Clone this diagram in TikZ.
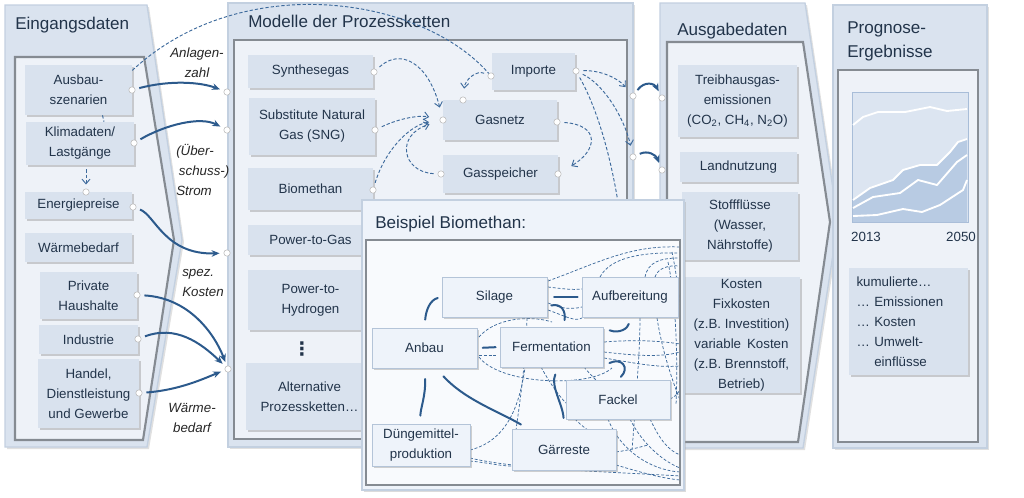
\documentclass[tikz,border=0pt]{standalone}
\usepackage{fontspec}
\setmainfont{Liberation Sans}
\newfontfamily\dejavu{DejaVu Sans}
\usetikzlibrary{arrows.meta,shadows}
\definecolor{panelfill}{HTML}{DAE3EF}
\definecolor{panelborder}{HTML}{C3D0E0}
\definecolor{innerfill}{HTML}{EEF2F8}
\definecolor{innerborder}{HTML}{858B92}
\definecolor{boxfill}{HTML}{D9E2EE}
\definecolor{bpanel}{HTML}{EEF3FA}
\definecolor{binner}{HTML}{F8FAFD}
\definecolor{bboxfill}{HTML}{EEF3FA}
\definecolor{bboxborder}{HTML}{B4C4D8}
\definecolor{txt}{HTML}{22344A}
\definecolor{arrowc}{HTML}{2C5A8C}
\definecolor{dashc}{HTML}{3D6A9C}
\definecolor{chartlight}{HTML}{DCE5F1}
\definecolor{chartdark}{HTML}{B8CBE3}
\definecolor{chartborder}{HTML}{A8BDD8}
\begin{document}
\begin{tikzpicture}[x=0.75pt,y=-0.75pt,
  outerp/.style={fill=panelfill, draw=panelborder, line width=1pt, drop shadow={shadow xshift=1.5pt, shadow yshift=-1.5pt, opacity=0.35, fill=gray!70}},
  innerp/.style={fill=innerfill, draw=innerborder, line width=1.6pt},
  ttl/.style={text=txt, font=\fontsize{12.8}{18}\selectfont, inner sep=0pt, align=left},
  box/.style={fill=boxfill, text=txt, align=center, font=\fontsize{10}{15}\selectfont, inner sep=1pt, drop shadow={shadow xshift=1.2pt, shadow yshift=-1.2pt, opacity=0.45, fill=gray!80}},
  sz/.style 2 args={minimum width=#1*0.75pt, minimum height=#2*0.75pt},
  bbox/.style={box, fill=bboxfill, draw=bboxborder, line width=0.6pt},
  dot/.style={circle, fill=white, draw=gray!55, line width=0.4pt, inner sep=0pt, minimum size=4.8pt},
  lab/.style={text=black!85, font=\fontsize{10}{15}\selectfont\itshape, inner sep=0pt},
  solidarr/.style={draw=arrowc, line width=1.5pt, -{Stealth[length=6pt,width=5pt]}, shorten >=3pt, shorten <=3pt},
  dasharr/.style={draw=dashc, line width=0.7pt, dash pattern=on 2.5pt off 1.5pt, -{Straight Barb[length=3.5pt,width=6pt]}, shorten <=3pt},
  dashline/.style={draw=dashc, line width=0.7pt, dash pattern=on 2.5pt off 1.5pt},
  bsolid/.style={draw=arrowc, line width=1.5pt, line cap=round},
  bdash/.style={draw=dashc, line width=0.55pt, dash pattern=on 2.2pt off 1.4pt}
]
\useasboundingbox (0,0) rectangle (1024,497);

% ---------- panels ----------
\path[outerp] (5,5) -- (147,5) -- (182,240) -- (147,447) -- (5,447) -- cycle;
\path[innerp] (15,57) -- (144,57) -- (174,240) -- (143,440) -- (15,440) -- cycle;
\path[outerp] (228,3) rectangle (633,447);
\path[innerp] (234,40) rectangle (627,439);
\path[outerp] (660,3) -- (805,3) -- (838,222) -- (803,448) -- (660,448) -- cycle;
\path[innerp] (667,42) -- (803,42) -- (830,222) -- (798,442) -- (667,442) -- cycle;
\path[outerp] (833,5) rectangle (987,448);
\path[innerp] (838,70) rectangle (978,442);

% ---------- titles ----------
\node[ttl, anchor=base west] (tEin) at (15,29) {Eingangsdaten};
\node[ttl, anchor=base west] (tMod) at (248,27) {Modelle der Prozessketten};
\node[ttl, anchor=base west] (tAus) at (677,35) {Ausgabedaten};
\node[ttl, anchor=north west] (tPro) at (847,21) {Prognose-\\Ergebnisse};

% ---------- Eingangsdaten boxes ----------
\node[box, sz={107}{50}] (ausbau) at (78.5,90) {Ausbau-\\szenarien};
\node[box, sz={108}{43}] (klima) at (80,143.5) {Klimadaten/\\Lastgänge};
\node[box, sz={107}{27}] (energie) at (78.5,205.5) {Energiepreise};
\node[box, sz={107}{29}] (waerme) at (78.5,247.5) {Wärmebedarf};
\node[box, sz={97}{47}] (privat) at (88.5,295.5) {Private\\Haushalte};
\node[box, sz={99}{29}] (industrie) at (88.5,339.5) {Industrie};
\node[box, sz={101}{69}] (handel) at (88.5,393.5) {Handel,\\Dienstleistung\\und Gewerbe};

% ---------- Modelle boxes ----------
\node[box, sz={125}{33}] (synth) at (310.5,71.5) {Synthesegas};
\node[box, sz={126}{57}] (sng) at (312,126.5) {Substitute Natural\\Gas (SNG)};
\node[box, sz={125}{42}] (biometh) at (310.5,189) {Biomethan};
\node[box, sz={125}{30}] (p2g) at (310.5,240) {Power-to-Gas};
\node[box, sz={125}{60}] (p2h) at (310.5,300) {Power-to-\\Hydrogen};
\node[text=txt, inner sep=0pt, font=\dejavu\fontsize{14}{14}\selectfont\bfseries] (vd) at (302,349) {⋮};
\node[box, sz={127}{67}] (altern) at (309.5,396.5) {Alternative\\Prozessketten…};
\node[box, sz={83}{37}] (importe) at (533.5,71.5) {Importe};
\node[box, sz={114}{40}] (gasnetz) at (500,120) {Gasnetz};
\node[box, sz={115}{38}] (gasspeicher) at (500.5,174) {Gasspeicher};

% ---------- Ausgabedaten boxes ----------
\node[box, sz={119}{72}] (thg) at (737.5,101) {Treibhausgas-\\emissionen\\(CO\textsubscript{2}, CH\textsubscript{4}, N\textsubscript{2}O)};
\node[box, sz={117}{30}] (land) at (738.5,167) {Landnutzung};
\node[box, sz={116}{68}] (stoff) at (740,226) {Stoffflüsse\\(Wasser,\\Nährstoffe)};
\node[box, sz={117}{116}] (kosten) at (741.5,335) {Kosten\\Fixkosten\\(z.B. Investition)\\variable\, Kosten\\(z.B. Brennstoff,\\Betrieb)};

% ---------- Prognose content ----------
\path[fill=chartlight, draw=chartborder, line width=0.6pt] (852,92) rectangle (968,222);
\path[fill=chartdark] (853,222) -- (853,200) -- (870,188) -- (893,180) -- (903,170) -- (920,165) -- (937,165) -- (950,152) -- (958,142) -- (967,139) -- (967,222) -- cycle;
\begin{scope}[draw=white, line width=1.4pt, line join=round]
\draw (853,125) -- (863,117) -- (878,112) -- (905,112) -- (930,107) -- (947,111) -- (967,109);
\draw (853,200) -- (870,188) -- (893,180) -- (903,170) -- (920,165) -- (937,165) -- (950,152) -- (958,142) -- (967,139);
\draw (853,208) -- (873,197) -- (900,193) -- (918,180) -- (937,185) -- (957,162) -- (967,155);
\draw (853,216) -- (877,215) -- (903,209) -- (922,212) -- (940,205) -- (963,190) -- (967,180);
\end{scope}
\node[text=txt, font=\fontsize{10}{12}\selectfont, inner sep=0pt] (y1) at (866,237) {2013};
\node[text=txt, font=\fontsize{10}{12}\selectfont, inner sep=0pt] (y2) at (961,237) {2050};
\node[box, sz={119}{107}, text width=104*0.75pt, align=left] (kumul) at (908.5,321.5) {kumulierte…\\… Emissionen\\… Kosten\\… Umwelt-\\\phantom{… }einflüsse};

% ---------- dots (as nodes) ----------
\node[dot] (dAusE) at (132,90) {};
\node[dot] (dKlimE) at (134,143) {};
\node[dot] (dEnerE) at (133,207) {};
\node[dot] (dEnerN) at (86,192) {};
\node[dot] (dPrivE) at (137,295) {};
\node[dot] (dIndE) at (138,339) {};
\node[dot] (dHandE) at (139,393) {};
\node[dot] (dM1) at (227,92) {};
\node[dot] (dM2) at (227,130) {};
\node[dot] (dM3) at (227,253) {};
\node[dot] (dM4) at (228,369) {};
\node[dot] (dSyn) at (374,72) {};
\node[dot] (dSng) at (375,130) {};
\node[dot] (dBio) at (373,190) {};
\node[dot] (dGnW) at (443,120) {};
\node[dot] (dGnE) at (557,122) {};
\node[dot] (dGnN) at (463,100) {};
\node[dot] (dImW) at (491,76) {};
\node[dot] (dImE) at (576,71) {};
\node[dot] (dGsW) at (441,174) {};
\node[dot] (dGsE) at (558,174) {};
\node[dot] (dO1) at (633,96) {};
\node[dot] (dO2) at (633,157) {};
\node[dot] (dA1) at (662,98) {};
\node[dot] (dA2) at (662,170) {};
\coordinate (impEnd) at (620,215);

% ---------- connectors ----------
\draw[dashline] (ausbau.20) .. controls (240,-30) and (420,-5) .. (dImW);
\draw[dashline] ([xshift=18pt]ausbau.south) -- ([xshift=18pt]klima.north);
\draw[dasharr, shorten >=3pt] (klima.south -| dEnerN) -- (dEnerN);
\draw[solidarr] (dAusE) .. controls (170,80) and (200,82) .. (dM1);
\draw[solidarr] (dKlimE) .. controls (165,125) and (200,116) .. (dM2);
\draw[solidarr] (dEnerE) .. controls (155,215) and (165,255) .. (dM3);
\draw[solidarr] (dPrivE) .. controls (190,298) and (215,335) .. (dM4);
\draw[solidarr] (dIndE) .. controls (175,325) and (200,342) .. (dM4);
\draw[solidarr] (dHandE) .. controls (180,390) and (205,378) .. (dM4);

\draw[dasharr, shorten >=7pt] (dSyn) .. controls (400,48) and (428,62) .. (dGnW);
\draw[dasharr, shorten >=8pt] (dSng) .. controls (400,118) and (420,115) .. (dGnW);
\draw[dasharr, shorten >=8pt] (dBio) .. controls (385,150) and (410,125) .. (dGnW);
\draw[dasharr, shorten >=8pt] (dGsW) .. controls (402,172) and (395,135) .. (dGnW);
\draw[dasharr, shorten >=9pt] (dGnE) .. controls (600,125) and (598,150) .. (dGsE);
\draw[dasharr, shorten >=6pt] (dImW) .. controls (476,70) and (465,80) .. (dGnN);
\draw[dasharr, shorten >=6pt] (dImE) .. controls (600,70) and (618,78) .. (dO1);
\draw[dasharr, shorten >=6pt] (dImE) .. controls (605,85) and (625,120) .. (dO2);
\draw[dashline, shorten <=3pt] (dImE) .. controls (598,110) and (612,160) .. (impEnd);
\draw[solidarr] (dO1) .. controls (645,80) and (655,84) .. (dA1);
\draw[solidarr] (dO2) .. controls (648,150) and (656,155) .. (dA2);

% ---------- labels ----------
\node[lab, align=center] (lAnl) at (197,62.5) {Anlagen-\\zahl};
\node[lab, align=left, anchor=west] (lStr) at (176,170) {(Über-\\\hspace*{2pt}schuss-)\\Strom};
\node[lab, align=left, anchor=west] (lKos) at (182,282.5) {spez.\\Kosten};
\node[lab, align=center] (lWae) at (192,417.5) {Wärme-\\bedarf};

% ---------- Beispiel Biomethan panel ----------
\path[fill=bpanel, draw=panelborder, line width=1pt, drop shadow={shadow xshift=1.5pt, shadow yshift=-1.5pt, opacity=0.4, fill=gray!70}] (362,200) rectangle (684,490);
\path[fill=binner, draw=innerborder, line width=1.6pt] (366,240) rectangle (680,485);
\node[ttl, anchor=base west] (tBei) at (375,228) {Beispiel Biomethan:};

\begin{scope}
\clip (367,241) rectangle (679,484);
% dashed tangle
\draw[bdash] (548,281) .. controls (600,262) and (630,245) .. (680,247);
\draw[bdash] (548,287) .. controls (565,289) and (572,290) .. (582,289);
\draw[bdash] (600,277) .. controls (610,258) and (640,252) .. (680,253);
\draw[bdash] (645,277) .. controls (648,262) and (660,258) .. (680,258);
\draw[bdash] (655,277) .. controls (658,268) and (668,265) .. (680,266);
\draw[bdash] (548,303) .. controls (560,308) and (570,310) .. (582,307);
\draw[bdash] (548,310) .. controls (565,316) and (575,322) .. (582,318);
\draw[bdash] (604,342) .. controls (630,340) and (655,340) .. (680,344);
\draw[bdash] (604,352) .. controls (630,355) and (660,358) .. (680,352);
\draw[bdash] (604,358) .. controls (630,362) and (655,368) .. (680,366);
\draw[bdash] (640,318) .. controls (640,350) and (636,400) .. (632,450);
\draw[bdash] (657,318) .. controls (662,350) and (672,380) .. (680,400);
\draw[bdash] (668,262) .. controls (676,300) and (678,360) .. (676,405);
\draw[bdash] (672,252) .. controls (680,290) and (682,330) .. (680,340);
\draw[bdash] (479,337) .. controls (495,318) and (530,315) .. (552,322);
\draw[bdash] (479,357) .. controls (500,385) and (590,388) .. (612,368);
\draw[bdash] (479,355) -- (498,355);
\draw[bdash] (527,318) .. controls (525,370) and (520,400) .. (516,430);
\draw[bdash] (470,450) .. controls (510,440) and (520,400) .. (525,368);
\draw[bdash] (470,458) .. controls (520,470) and (620,472) .. (680,476);
\draw[bdash] (470,461) .. controls (490,463) and (500,466) .. (512,466);
\draw[bdash] (541,367) .. controls (548,380) and (558,395) .. (566,403);
\draw[bdash] (584,367) .. controls (588,372) and (592,376) .. (596,380);
\draw[bdash] (670,399) .. controls (675,397) and (678,393) .. (680,390);
\draw[bdash] (575,419) .. controls (590,435) and (608,440) .. (616,445);
\draw[bdash] (608,419) .. controls (620,450) and (650,470) .. (680,472);
\draw[bdash] (630,419) .. controls (640,440) and (660,460) .. (680,468);
\draw[bdash] (650,419) .. controls (660,440) and (668,450) .. (680,455);
\draw[bdash] (616,452) .. controls (630,450) and (640,447) .. (648,445);
\draw[bdash] (616,465) .. controls (640,472) and (660,478) .. (680,480);
\end{scope}

\node[bbox, sz={105}{40}] (silage) at (494.5,297) {Silage};
\node[bbox, sz={96}{40}] (aufb) at (630,297) {Aufbereitung};
\node[bbox, sz={105}{40}] (anbau) at (424.5,348) {Anbau};
\node[bbox, sz={103}{40}] (ferm) at (551.5,347) {Fermentation};
\node[bbox, sz={104}{39}] (fackel) at (618,399.5) {Fackel};
\node[bbox, sz={98}{42}] (dueng) at (421,445) {Düngemittel-\\produktion};
\node[bbox, sz={104}{41}] (gaer) at (564,449.5) {Gärreste};

% solid links
\draw[bsolid, shorten <=6pt, shorten >=3pt] (anbau.north) .. controls (426,310) and (430,300) .. (silage.west);
\draw[bsolid, shorten <=4pt, shorten >=3pt] (anbau.east) -- (ferm.west);
\draw[bsolid, shorten <=8pt, shorten >=6pt] (anbau.south) .. controls (426,395) and (420,410) .. (dueng.north);
\draw[bsolid, shorten <=8pt, shorten >=6pt] (anbau.300) .. controls (465,400) and (500,412) .. (gaer.150);
\draw[bsolid, shorten <=5pt, shorten >=3pt] (silage.east) -- (aufb.west);
\draw[bsolid, shorten <=3pt, shorten >=5pt] (silage.-10) .. controls (562,303) and (566,312) .. (ferm.60);
\draw[bsolid, shorten <=5pt, shorten >=5pt] (ferm.20) .. controls (620,334) and (628,328) .. (aufb.south);
\draw[bsolid, shorten <=5pt, shorten >=3pt] (ferm.-20) .. controls (622,357) and (630,368) .. (fackel.north);
\draw[bsolid, shorten <=8pt, shorten >=6pt] (gaer.north) .. controls (563,405) and (550,385) .. (ferm.-70);
\end{tikzpicture}
\end{document}
